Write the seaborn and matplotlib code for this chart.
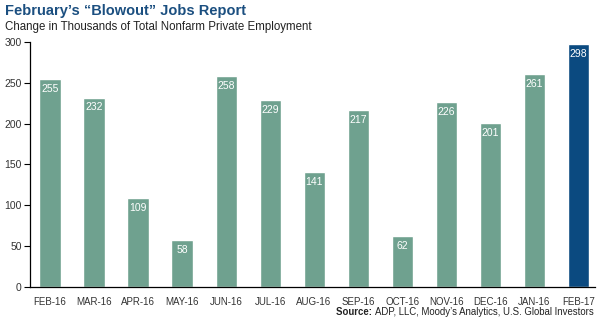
import matplotlib
matplotlib.use("Agg")
import matplotlib.pyplot as plt
import seaborn as sns
import pandas as pd

months = ["FEB-16", "MAR-16", "APR-16", "MAY-16", "JUN-16", "JUL-16", "AUG-16",
          "SEP-16", "OCT-16", "NOV-16", "DEC-16", "JAN-16", "FEB-17"]
values = [255, 232, 109, 58, 258, 229, 141, 217, 62, 226, 201, 261, 298]
yticks = [0, 50, 100, 150, 200, 250, 300]

sns.set_theme(style="white")
plt.rcParams['font.family'] = ['Liberation Sans Narrow', 'Liberation Sans', 'DejaVu Sans']

df = pd.DataFrame({"month": months, "value": values})
green = "#6fa18f"
blue = "#0b4a80"
palette = [green] * (len(months) - 1) + [blue]

fig = plt.figure(figsize=(6.0, 3.23), dpi=100)
ax = fig.add_axes([0.05, 0.1115, 0.942, 0.7585])
sns.barplot(data=df, x="month", y="value", hue="month", palette=palette,
            legend=False, width=0.48, ax=ax, saturation=1)

ax.set_ylim(0, 300)
ax.set_xlim(-0.4545, 12.386)
ax.set_yticks(yticks)
ax.set_yticklabels([str(t) for t in yticks], fontsize=7.5, color="#333333")
ax.tick_params(axis="y", direction="out", length=4, width=0.8, color="black", pad=2, left=True)
ax.tick_params(axis="x", length=0, pad=7, labelsize=7, labelcolor="#333333")
ax.set_xlabel("")
ax.set_ylabel("")
for s in ["top", "right"]:
    ax.spines[s].set_visible(False)
for s in ["left", "bottom"]:
    ax.spines[s].set_color("black")
    ax.spines[s].set_linewidth(0.9)

for i, v in enumerate(values):
    ax.text(i, v - 6, str(v), ha="center", va="top", color="white", fontsize=7.5)

fig.text(0.008, 0.945, "February\u2019s \u201cBlowout\u201d Jobs Report", fontsize=10.5,
         fontweight="bold", color="#1b4f80", ha="left", va="bottom")
fig.text(0.008, 0.935, "Change in Thousands of Total Nonfarm Private Employment",
         fontsize=8.3, color="#222222", ha="left", va="top")
src = fig.text(0.989, 0.018, "ADP, LLC, Moody\u2019s Analytics, U.S. Global Investors",
               fontsize=6.9, color="#222222", ha="right", va="bottom")
fig.canvas.draw()
bb = src.get_window_extent()
x0 = bb.x0 / fig.bbox.width
fig.text(x0, 0.018, "Source: ", fontsize=6.9, fontweight="bold", color="#222222",
         ha="right", va="bottom")

fig.savefig("out.png", dpi=100)
